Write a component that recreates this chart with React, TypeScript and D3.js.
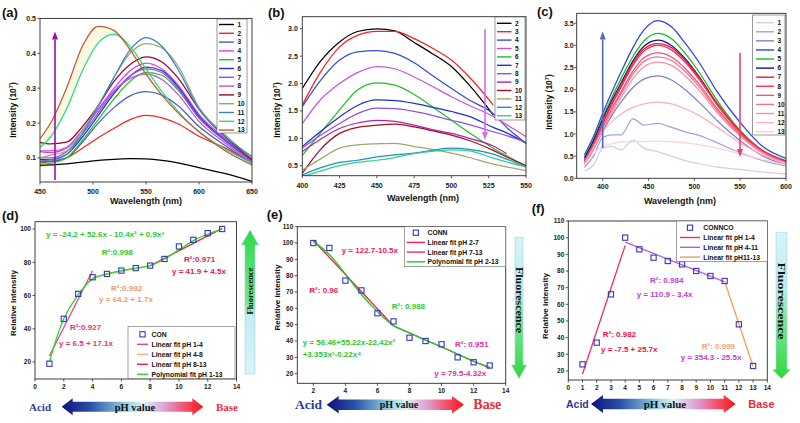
import React from "react";
import * as d3 from "d3";

const SANS = "'Liberation Sans', Arial, Helvetica, sans-serif";
const SERIF = "'Liberation Serif', 'Times New Roman', serif";
const AXIS = "#2b2b2b";

/* ---------------- (a) ---------------- */
const wavelengthA = [450, 460, 475, 490, 505, 520, 535, 550, 565, 580, 600, 625, 650];
const namesA = ["1", "2", "3", "4", "5", "6", "7", "8", "9", "10", "11", "12", "13"];
const intensityA = [
  [0.078, 0.080, 0.083, 0.088, 0.093, 0.096, 0.098, 0.097, 0.093, 0.086, 0.072, 0.055, 0.033],
  [0.085, 0.090, 0.100, 0.128, 0.158, 0.185, 0.210, 0.222, 0.215, 0.198, 0.162, 0.128, 0.085],
  [0.090, 0.090, 0.100, 0.145, 0.200, 0.245, 0.278, 0.290, 0.280, 0.250, 0.190, 0.135, 0.085],
  [0.120, 0.120, 0.130, 0.180, 0.240, 0.300, 0.350, 0.372, 0.355, 0.310, 0.225, 0.155, 0.095],
  [0.080, 0.085, 0.100, 0.150, 0.210, 0.270, 0.320, 0.345, 0.337, 0.295, 0.215, 0.150, 0.095],
  [0.095, 0.095, 0.110, 0.160, 0.222, 0.285, 0.335, 0.360, 0.350, 0.305, 0.220, 0.150, 0.090],
  [0.100, 0.100, 0.118, 0.168, 0.230, 0.290, 0.335, 0.355, 0.345, 0.300, 0.215, 0.148, 0.090],
  [0.118, 0.115, 0.128, 0.178, 0.238, 0.293, 0.328, 0.340, 0.325, 0.283, 0.205, 0.142, 0.085],
  [0.145, 0.140, 0.145, 0.190, 0.250, 0.320, 0.368, 0.390, 0.375, 0.330, 0.240, 0.160, 0.095],
  [0.100, 0.108, 0.120, 0.178, 0.250, 0.332, 0.400, 0.428, 0.415, 0.365, 0.245, 0.165, 0.100],
  [0.090, 0.095, 0.110, 0.170, 0.248, 0.332, 0.410, 0.445, 0.420, 0.355, 0.240, 0.160, 0.104],
  [0.130, 0.160, 0.240, 0.350, 0.430, 0.455, 0.420, 0.355, 0.290, 0.235, 0.175, 0.125, 0.085],
  [0.155, 0.200, 0.300, 0.420, 0.477, 0.465, 0.410, 0.340, 0.280, 0.230, 0.175, 0.120, 0.080],
];
const colorsA = ["#000000", "#ff2020", "#4a5ad0", "#e040e8", "#20c820", "#1f2ee0", "#9050e0", "#c050e0", "#a00030", "#a4a46a", "#3088c8", "#20e080", "#c05a30"];
const xTicksA = [450, 500, 550, 600, 650];
const yTicksA = [0.1, 0.2, 0.3, 0.4, 0.5];

/* ---------------- (b) ---------------- */
const wavelengthB = [400, 412, 425, 437, 450, 462, 475, 487, 500, 512, 528, 537, 550];
const namesB = ["2", "3", "4", "5", "6", "7", "8", "9", "10", "11", "12", "13"];
const intensityB: (number | null)[][] = [
  [1.91, 2.40, 2.76, 2.95, 3.00, 2.96, 2.75, 2.55, 2.31, 1.97, 1.43, null, null],
  [1.61, 2.20, 2.67, 2.88, 2.95, 2.95, 2.82, 2.65, 2.43, 2.12, 1.61, null, null],
  [1.58, 2.05, 2.43, 2.58, 2.60, 2.55, 2.38, 2.15, 1.91, 1.70, 1.45, 1.20, 0.91],
  [1.27, 1.70, 2.00, 2.20, 2.31, 2.27, 2.12, 1.95, 1.76, 1.60, 1.40, 1.25, 1.03],
  [0.69, 1.09, 1.52, 1.88, 2.01, 1.97, 1.80, 1.58, 1.33, 1.10, 0.82, 0.68, 0.50],
  [0.85, 1.12, 1.39, 1.60, 1.70, 1.69, 1.64, 1.57, 1.49, 1.40, 1.20, 1.10, 0.91],
  [0.82, 1.05, 1.27, 1.45, 1.55, 1.54, 1.49, 1.42, 1.33, 1.25, 1.12, 1.05, 0.93],
  [0.76, 0.98, 1.18, 1.28, 1.33, 1.31, 1.24, 1.16, 1.09, 1.00, 0.86, 0.72, null],
  [0.36, 0.79, 1.09, 1.20, 1.24, 1.26, 1.21, 1.14, 1.06, 0.96, 0.78, 0.66, 0.50],
  [0.42, 0.62, 0.82, 0.88, 0.90, 0.91, 0.85, 0.80, 0.73, 0.65, 0.53, 0.48, 0.41],
  [0.33, 0.46, 0.56, 0.60, 0.66, 0.70, 0.73, 0.78, 0.82, 0.80, 0.71, 0.62, 0.48],
  [0.30, 0.40, 0.50, 0.56, 0.60, 0.65, 0.72, 0.76, 0.79, 0.77, 0.64, 0.57, 0.48],
];
const colorsB = ["#000000", "#ff2020", "#3050d0", "#d050e0", "#20c020", "#2030d0", "#9050e0", "#b020b0", "#a01020", "#a4a46a", "#2090c0", "#30d090"];
const xTicksB = [400, 425, 450, 475, 500, 525, 550];
const yTicksB = [0.5, 1.0, 1.5, 2.0, 2.5, 3.0];

/* ---------------- (c) ---------------- */
const wavelengthC = [380, 390, 400, 410, 420, 433, 445, 460, 475, 490, 505, 525, 550, 575, 600];
const namesC = ["1", "2", "3", "4", "5", "6", "7", "8", "9", "10", "11", "12", "13"];
const intensityC = [
  [0.17, 0.30, 0.68, 0.72, 0.64, 0.86, 0.68, 0.60, 0.50, 0.40, 0.33, 0.25, 0.20, 0.14, 0.10],
  [0.25, 0.50, 0.92, 0.98, 0.98, 1.34, 1.20, 1.24, 1.15, 1.05, 0.97, 0.80, 0.58, 0.40, 0.28],
  [0.30, 0.65, 1.05, 1.42, 1.72, 2.05, 2.24, 2.31, 2.22, 2.00, 1.72, 1.30, 0.85, 0.50, 0.30],
  [0.53, 0.95, 1.47, 1.95, 2.40, 2.95, 3.35, 3.56, 3.42, 3.05, 2.62, 1.95, 1.26, 0.71, 0.45],
  [0.48, 0.88, 1.38, 1.83, 2.25, 2.75, 3.10, 3.27, 3.15, 2.82, 2.40, 1.75, 1.08, 0.62, 0.40],
  [0.45, 0.85, 1.33, 1.76, 2.15, 2.65, 2.98, 3.12, 3.00, 2.70, 2.30, 1.68, 1.04, 0.60, 0.38],
  [0.40, 0.78, 1.25, 1.70, 2.10, 2.60, 2.92, 3.04, 2.95, 2.66, 2.28, 1.68, 1.06, 0.62, 0.38],
  [0.38, 0.75, 1.22, 1.66, 2.05, 2.55, 2.87, 3.00, 2.90, 2.62, 2.24, 1.65, 1.04, 0.61, 0.37],
  [0.36, 0.72, 1.16, 1.58, 1.95, 2.42, 2.72, 2.83, 2.74, 2.48, 2.13, 1.57, 1.00, 0.59, 0.36],
  [0.35, 0.70, 1.13, 1.54, 1.90, 2.35, 2.64, 2.74, 2.66, 2.41, 2.07, 1.53, 0.98, 0.58, 0.35],
  [0.34, 0.68, 1.10, 1.48, 1.82, 2.25, 2.52, 2.62, 2.55, 2.31, 1.99, 1.48, 0.95, 0.56, 0.34],
  [0.33, 0.70, 1.05, 1.28, 1.45, 1.60, 1.68, 1.72, 1.68, 1.57, 1.42, 1.15, 0.80, 0.52, 0.33],
  [0.30, 0.55, 0.72, 0.78, 0.82, 0.83, 0.83, 0.84, 0.83, 0.80, 0.76, 0.68, 0.55, 0.42, 0.30],
];
const colorsC = ["#d4ccf0", "#a8a0dc", "#8080cc", "#3040e0", "#10c010", "#101090", "#ff1030", "#f83050", "#f85070", "#f87090", "#f890a8", "#fab0c0", "#fcd0dc"];
const xTicksC = [400, 450, 500, 550, 600];
const yTicksC = [0.0, 0.5, 1.0, 1.5, 2.0, 2.5, 3.0, 3.5];

/* ---------------- (d) ---------------- */
const phD = [1, 2, 3, 4, 5, 6, 7, 8, 9, 10, 11, 12, 13];
const relD = [19, 46, 61, 71, 73, 75, 76.5, 78, 82, 89.5, 93.5, 97.5, 100];
const polyD = [20, 46, 60.5, 70, 73, 75, 76.5, 78, 82, 87.5, 93, 97, 100];
const fitD1X = [1, 4];
const fitD1Y = [23.6, 74.9];
const fitD2X = [4, 8];
const fitD2Y = [71, 77.8];
const fitD3X = [8, 13];
const fitD3Y = [77.9, 100.4];
const xTicksD = [0, 2, 4, 6, 8, 10, 12, 14];
const yTicksD = [20, 40, 60, 80, 100];

/* ---------------- (e) ---------------- */
const phE = [2, 3, 4, 5, 6, 7, 8, 9, 10, 11, 12, 13];
const relE = [100, 97, 77, 71, 57, 52, 42, 40, 38, 30, 27, 25];
const polyE = [101, 93, 81, 68.5, 58, 49.5, 45, 40.5, 36.5, 32, 27.5, 24];
const fitE1X = [2, 7];
const fitE1Y = [101.7, 49.2];
const fitE2X = [7, 13];
const fitE2Y = [49.3, 23.3];
const xTicksE = [2, 4, 6, 8, 10, 12, 14];
const yTicksE = [20, 30, 40, 50, 60, 70, 80, 90, 100, 110];

/* ---------------- (f) ---------------- */
const phF = [1, 2, 3, 4, 5, 6, 7, 8, 9, 10, 11, 12, 13];
const relF = [24, 37, 66, 100, 93, 88, 86, 84, 80, 77, 74, 48, 23];
const fitF1X = [1, 4];
const fitF1Y = [18.2, 95.3];
const fitF2X = [4, 11];
const fitF2Y = [97.3, 73.5];
const fitF3X = [11, 13];
const fitF3Y = [73.8, 22.8];
const xTicksF = [0, 1, 2, 3, 4, 5, 6, 7, 8, 9, 10, 11, 12, 13, 14];
const yTicksF = [20, 30, 40, 50, 60, 70, 80, 90, 100, 110];

type Sc = d3.ScaleLinear<number, number>;

function Axes(p: {
  xs: Sc; ys: Sc; xTicks: number[]; yTicks: number[]; xFmt: (v: number) => string; yFmt: (v: number) => string;
  fs: number; xLabOff: number; yLabOff: number;
}) {
  const [x0, x1] = p.xs.range();
  const [y0, y1] = p.ys.range();
  return (
    <g>
      <rect x={x0} y={y1} width={x1 - x0} height={y0 - y1} fill="none" stroke={AXIS} strokeWidth={0.9} />
      {p.xTicks.map((t) => (
        <g key={"x" + t}>
          <line x1={p.xs(t)} x2={p.xs(t)} y1={y0} y2={y0 + 2.5} stroke={AXIS} strokeWidth={0.8} />
          <text x={p.xs(t)} y={y0 + p.xLabOff} textAnchor="middle" fontSize={p.fs} fontWeight="bold" fontFamily={SANS} fill="#222">
            {p.xFmt(t)}
          </text>
        </g>
      ))}
      {p.yTicks.map((t) => (
        <g key={"y" + t}>
          <line x1={x0 - 2.5} x2={x0} y1={p.ys(t)} y2={p.ys(t)} stroke={AXIS} strokeWidth={0.8} />
          <text x={x0 - p.yLabOff} y={p.ys(t) + p.fs * 0.36} textAnchor="end" fontSize={p.fs} fontWeight="bold" fontFamily={SANS} fill="#222">
            {p.yFmt(t)}
          </text>
        </g>
      ))}
    </g>
  );
}

function VArrow({ x, yFrom, yTo, color }: { x: number; yFrom: number; yTo: number; color: string }) {
  const dir = yTo > yFrom ? 1 : -1;
  const hl = 8;
  const hw = 3;
  return (
    <g>
      <line x1={x} x2={x} y1={yFrom} y2={yTo - dir * hl} stroke={color} strokeWidth={1.6} />
      <path d={`M${x},${yTo} L${x - hw},${yTo - dir * hl} L${x + hw},${yTo - dir * hl} Z`} fill={color} />
    </g>
  );
}

type Leg = { x0: number; x1: number; y0: number; y1: number; first: number; step: number; lx0: number; lx1: number; tx: number };

function Spectrum(p: {
  id: string; left: number; right: number; top: number; bottom: number;
  xDomain: number[]; yDomain: number[]; xTicks: number[]; yTicks: number[];
  wl: number[]; rows: (number | null)[][]; names: string[]; colors: string[];
  leg: Leg; fillPair?: [number, number];
  label: string; labelX: number; labelY: number;
  yTitleX: number; yTitleY: number; xTitleX: number; xTitleY: number;
  xLabOff: number; yLabOff: number;
  render: (xs: Sc, ys: Sc) => React.ReactNode;
}) {
  const xs = d3.scaleLinear().domain(p.xDomain).range([p.left, p.right]);
  const ys = d3.scaleLinear().domain(p.yDomain).range([p.bottom, p.top]);
  const line = d3
    .line<number | null>()
    .defined((v) => v != null)
    .x((_, i) => xs(p.wl[i]))
    .y((v) => ys(v as number))
    .curve(d3.curveMonotoneX);
  let fillPath: string | null = null;
  if (p.fillPair) {
    const [a, b] = p.fillPair;
    const area = d3
      .area<number>()
      .x((_, i) => xs(p.wl[i]))
      .y0((_, i) => ys(p.rows[a][i] as number))
      .y1((_, i) => ys(p.rows[b][i] as number))
      .curve(d3.curveMonotoneX);
    fillPath = area(p.wl);
  }
  const fmt = d3.format(".1f");
  return (
    <g>
      <defs>
        <clipPath id={"clip" + p.id}>
          <rect x={p.left} y={p.top} width={p.right - p.left} height={p.bottom - p.top} />
        </clipPath>
      </defs>
      <g clipPath={`url(#clip${p.id})`}>
        {fillPath && <path d={fillPath} fill="#fbf4d6" opacity={0.75} />}
        {p.rows.map((r, i) => (
          <path key={i} d={line(r) || ""} fill="none" stroke={p.colors[i]} strokeWidth={1.25} />
        ))}
      </g>
      <Axes xs={xs} ys={ys} xTicks={p.xTicks} yTicks={p.yTicks} xFmt={(v) => String(v)} yFmt={fmt} fs={7} xLabOff={p.xLabOff} yLabOff={p.yLabOff} />
      {p.render(xs, ys)}
      <rect x={p.leg.x0} y={p.leg.y0} width={p.leg.x1 - p.leg.x0} height={p.leg.y1 - p.leg.y0} fill="#fff" stroke="#555" strokeWidth={0.6} />
      {p.names.map((n, i) => {
        const y = p.leg.first + i * p.leg.step;
        return (
          <g key={n}>
            <line x1={p.leg.lx0} x2={p.leg.lx1} y1={y} y2={y} stroke={p.colors[i]} strokeWidth={1.4} />
            <text x={p.leg.tx} y={y + 2.3} fontSize={6.5} fontWeight="bold" fontFamily={SANS} fill="#111">
              {n}
            </text>
          </g>
        );
      })}
      <text x={p.labelX} y={p.labelY} fontSize={13} fontWeight="bold" fontFamily={SANS} fill="#111">
        {p.label}
      </text>
      <text transform={`translate(${p.yTitleX},${p.yTitleY}) rotate(-90)`} textAnchor="middle" fontSize={8.5} fontWeight="bold" fontFamily={SANS} fill="#111">
        Intensity (10<tspan dy={-3} fontSize={5.5}>7</tspan><tspan dy={3}>)</tspan>
      </text>
      <text x={p.xTitleX} y={p.xTitleY} textAnchor="middle" fontSize={9} fontWeight="bold" fontFamily={SANS} fill="#111">
        Wavelength (nm)
      </text>
    </g>
  );
}

function Squares({ xs, ys, xv, yv }: { xs: Sc; ys: Sc; xv: number[]; yv: number[] }) {
  const s = 5.2;
  return (
    <g>
      {xv.map((x, i) => (
        <rect key={i} x={xs(x) - s / 2} y={ys(yv[i]) - s / 2} width={s} height={s} fill="none" stroke="#3535c8" strokeWidth={1.1} />
      ))}
    </g>
  );
}

function FitLine({ xs, ys, xv, yv, color, smooth }: { xs: Sc; ys: Sc; xv: number[]; yv: number[]; color: string; smooth?: boolean }) {
  const line = d3
    .line<number>()
    .x((_, i) => xs(xv[i]))
    .y((v) => ys(v))
    .curve(smooth ? d3.curveCatmullRom.alpha(0.5) : d3.curveLinear);
  return <path d={line(yv) || ""} fill="none" stroke={color} strokeWidth={1.3} />;
}

type LegItem = { kind: "sq" | "line"; color: string; text: string };

function FitLegend({ x0, x1, y0, y1, first, step, lx0, lx1, tx, items }: {
  x0: number; x1: number; y0: number; y1: number; first: number; step: number; lx0: number; lx1: number; tx: number; items: LegItem[];
}) {
  return (
    <g>
      <rect x={x0} y={y0} width={x1 - x0} height={y1 - y0} fill="#fff" stroke="#666" strokeWidth={0.6} />
      {items.map((it, i) => {
        const y = first + i * step;
        const cx = (lx0 + lx1) / 2;
        return (
          <g key={i}>
            {it.kind === "sq" ? (
              <rect x={cx - 2.6} y={y - 2.6} width={5.2} height={5.2} fill="none" stroke="#3535c8" strokeWidth={1.1} />
            ) : (
              <line x1={lx0} x2={lx1} y1={y} y2={y} stroke={it.color} strokeWidth={1.4} />
            )}
            <text x={tx} y={y + 2.4} fontSize={6.8} fontWeight="bold" fontFamily={SANS} fill="#111">
              {it.text}
            </text>
          </g>
        );
      })}
    </g>
  );
}

function Ann({ x, y, color, children, fs = 8 }: { x: number; y: number; color: string; children: React.ReactNode; fs?: number }) {
  return (
    <text x={x} y={y} fontSize={fs} fontWeight="bold" fontFamily={SANS} fill={color}>
      {children}
    </text>
  );
}

function DoubleArrow({ xl, xr, cy, hh, sh, hl }: { xl: number; xr: number; cy: number; hh: number; sh: number; hl: number }) {
  const d = `M${xl},${cy} L${xl + hl},${cy - hh} L${xl + hl},${cy - sh} L${xr - hl},${cy - sh} L${xr - hl},${cy - hh} L${xr},${cy} L${xr - hl},${cy + hh} L${xr - hl},${cy + sh} L${xl + hl},${cy + sh} L${xl + hl},${cy + hh} Z`;
  return <path d={d} fill="url(#gradPH)" />;
}

function FluoArrow({ xl, xr, top, bottom, hw, hl, up, grad }: { xl: number; xr: number; top: number; bottom: number; hw: number; hl: number; up: boolean; grad: string }) {
  const cx = (xl + xr) / 2;
  const d = up
    ? `M${cx},${top} L${cx + hw},${top + hl} L${xr},${top + hl} L${xr},${bottom} L${xl},${bottom} L${xl},${top + hl} L${cx - hw},${top + hl} Z`
    : `M${xl},${top} L${xr},${top} L${xr},${bottom - hl} L${cx + hw},${bottom - hl} L${cx},${bottom} L${cx - hw},${bottom - hl} L${xl},${bottom - hl} Z`;
  return <path d={d} fill={`url(#${grad})`} stroke="#9fd4e2" strokeWidth={0.6} />;
}

function FluoText({ x, y, len, fs, up }: { x: number; y: number; len: number; fs: number; up: boolean }) {
  return (
    <text
      transform={`translate(${x},${y}) rotate(${up ? -90 : 90})`}
      textAnchor="middle"
      fontSize={fs}
      fontWeight="bold"
      fontFamily={SERIF}
      fill="#111"
      textLength={len}
      lengthAdjust="spacingAndGlyphs"
      dy={fs * 0.33}
    >
      Fluorescence
    </text>
  );
}

function PanelA() {
  return (
    <Spectrum
      id="a" left={40} right={252} top={18.4} bottom={182}
      xDomain={[450, 650]} yDomain={[0.031, 0.5]} xTicks={xTicksA} yTicks={yTicksA}
      wl={wavelengthA} rows={intensityA} names={namesA} colors={colorsA}
      leg={{ x0: 217, x1: 247, y0: 19, y1: 133, first: 24.5, step: 8.8, lx0: 219, lx1: 234, tx: 237.5 }}
      fillPair={[11, 12]}
      label="(a)" labelX={2} labelY={17}
      yTitleX={16} yTitleY={110} xTitleX={146} xTitleY={204}
      xLabOff={12} yLabOff={4}
      render={() => <VArrow x={55} yFrom={180} yTo={31.5} color="#9a10a8" />}
    />
  );
}

function PanelB() {
  return (
    <Spectrum
      id="b" left={302.3} right={526} top={16.7} bottom={175.7}
      xDomain={[400, 550]} yDomain={[0.318, 3.22]} xTicks={xTicksB} yTicks={yTicksB}
      wl={wavelengthB} rows={intensityB} names={namesB} colors={colorsB}
      leg={{ x0: 495, x1: 525, y0: 17, y1: 120, first: 23.3, step: 8.4, lx0: 497, lx1: 511.5, tx: 515 }}
      label="(b)" labelX={268} labelY={17}
      yTitleX={280} yTitleY={110} xTitleX={423} xTitleY={201}
      xLabOff={12} yLabOff={4.5}
      render={() => <VArrow x={485} yFrom={29} yTo={140} color="#d070e8" />}
    />
  );
}

function PanelC() {
  return (
    <Spectrum
      id="c" left={576.7} right={786} top={13.3} bottom={178.3}
      xDomain={[371.6, 600]} yDomain={[0, 3.725]} xTicks={xTicksC} yTicks={yTicksC}
      wl={wavelengthC} rows={intensityC} names={namesC} colors={colorsC}
      leg={{ x0: 752.7, x1: 785, y0: 15, y1: 135, first: 22.7, step: 9.08, lx0: 756, lx1: 774, tx: 777.5 }}
      label="(c)" labelX={537} labelY={16}
      yTitleX={552} yTitleY={102} xTitleX={680} xTitleY={203.5}
      xLabOff={11} yLabOff={3}
      render={() => (
        <g>
          <VArrow x={602.7} yFrom={148} yTo={31.5} color="#5565c5" />
          <VArrow x={740} yFrom={52.7} yTo={157} color="#f04070" />
        </g>
      )}
    />
  );
}

function PanelD() {
  const xs = d3.scaleLinear().domain([0, 14]).range([35, 236.5]);
  const ys = d3.scaleLinear().domain([9.8, 104.4]).range([379, 221.7]);
  return (
    <g>
      <FitLine xs={xs} ys={ys} xv={fitD1X} yv={fitD1Y} color="#f0408c" />
      <FitLine xs={xs} ys={ys} xv={fitD2X} yv={fitD2Y} color="#f3b487" />
      <FitLine xs={xs} ys={ys} xv={fitD3X} yv={fitD3Y} color="#e8204c" />
      <FitLine xs={xs} ys={ys} xv={phD} yv={polyD} color="#22dd22" smooth />
      <Squares xs={xs} ys={ys} xv={phD} yv={relD} />
      <Axes xs={xs} ys={ys} xTicks={xTicksD} yTicks={yTicksD} xFmt={String} yFmt={String} fs={6.5} xLabOff={9.5} yLabOff={4} />
      <FitLegend
        x0={128} x1={235} y0={326.7} y1={378.5} first={334.3} step={10} lx0={137} lx1={148} tx={151.5}
        items={[
          { kind: "sq", color: "#3535c8", text: "CON" },
          { kind: "line", color: "#f0408c", text: "Linear fit pH 1-4" },
          { kind: "line", color: "#f3b487", text: "Linear fit pH 4-8" },
          { kind: "line", color: "#e8204c", text: "Linear fit pH 8-13" },
          { kind: "line", color: "#22dd22", text: "Polynomial fit pH 1-13" },
        ]}
      />
      <Ann x={46} y={237.3} color="#2ec82e">y = -24.2 + 52.6x - 10.4x² + 0.9x³</Ann>
      <Ann x={101.7} y={255} color="#2ec82e">R²:0.998</Ann>
      <Ann x={184} y={261.7} color="#e8204c">R²:0.971</Ann>
      <Ann x={172} y={274} color="#e8204c">y = 41.9 + 4.5x</Ann>
      <Ann x={111} y={290.7} color="#f39a6a">R²:0.992</Ann>
      <Ann x={99} y={301.7} color="#f39a6a">y = 64.2 + 1.7x</Ann>
      <Ann x={70} y={330} color="#f0306e">R²:0.927</Ann>
      <Ann x={59} y={346} color="#f0306e">y = 6.5 + 17.1x</Ann>
      <text x={2} y={220} fontSize={13} fontWeight="bold" fontFamily={SANS} fill="#111">(d)</text>
      <text transform="translate(16,303) rotate(-90)" textAnchor="middle" fontSize={8} fontWeight="bold" fontFamily={SANS} fill="#111">
        Relative Intensity
      </text>
      <FluoArrow xl={245} xr={255} top={230} bottom={374} hw={8.5} hl={15} up grad="gradUp" />
      <FluoText x={250} y={291} len={47} fs={8.5} up />
      <DoubleArrow xl={61.7} xr={203.3} cy={406.7} hh={8.5} sh={5} hl={11} />
      <text x={29} y={410.5} fontSize={11} fontWeight="bold" fontFamily={SERIF} fill="#2a3aa0">Acid</text>
      <text x={135} y={410.5} textAnchor="middle" fontSize={10.5} fontWeight="bold" fontFamily={SERIF} fill="#111">pH value</text>
      <text x={216} y={410.5} fontSize={11} fontWeight="bold" fontFamily={SERIF} fill="#f0283c">Base</text>
    </g>
  );
}

function PanelE() {
  const xs = d3.scaleLinear().domain([1, 14]).range([297.3, 505.7]);
  const ys = d3.scaleLinear().domain([14.1, 110]).range([383.3, 226.7]);
  return (
    <g>
      <FitLine xs={xs} ys={ys} xv={fitE1X} yv={fitE1Y} color="#f02048" />
      <FitLine xs={xs} ys={ys} xv={fitE2X} yv={fitE2Y} color="#e8306c" />
      <FitLine xs={xs} ys={ys} xv={phE} yv={polyE} color="#22cc22" smooth />
      <Squares xs={xs} ys={ys} xv={phE} yv={relE} />
      <Axes xs={xs} ys={ys} xTicks={xTicksE} yTicks={yTicksE} xFmt={String} yFmt={String} fs={6.5} xLabOff={9.5} yLabOff={4} />
      <FitLegend
        x0={404.3} x1={505.7} y0={226.7} y1={266.7} first={232.7} step={9.7} lx0={406.7} lx1={425} tx={427.5}
        items={[
          { kind: "sq", color: "#3535c8", text: "CONN" },
          { kind: "line", color: "#f02048", text: "Linear fit pH 2-7" },
          { kind: "line", color: "#e8306c", text: "Linear fit pH 7-13" },
          { kind: "line", color: "#22cc22", text: "Polynomial fit pH 2-13" },
        ]}
      />
      <Ann x={341.7} y={252.7} color="#f02050">y = 122.7-10.5x</Ann>
      <Ann x={309.3} y={293.3} color="#f02050">R²: 0.96</Ann>
      <Ann x={391.7} y={309.3} color="#2ec82e">R²: 0.988</Ann>
      <Ann x={302.7} y={345} color="#2ec82e">y = 56.46+55.22x-22.42x²</Ann>
      <Ann x={302.7} y={356.7} color="#2ec82e">+3.353x³-0.22x⁴</Ann>
      <Ann x={455} y={346.7} color="#e0309c">R²: 0.951</Ann>
      <Ann x={434.3} y={375.7} color="#e0309c">y = 79.5-4.32x</Ann>
      <text x={266.7} y={219.3} fontSize={13} fontWeight="bold" fontFamily={SANS} fill="#111">(e)</text>
      <text transform="translate(280,297.5) rotate(-90)" textAnchor="middle" fontSize={8} fontWeight="bold" fontFamily={SANS} fill="#111">
        Relative intensity
      </text>
      <FluoArrow xl={515} xr={523} top={237.3} bottom={378.5} hw={7.5} hl={13.5} up={false} grad="gradDown" />
      <FluoText x={519} y={300} len={66} fs={10} up={false} />
      <DoubleArrow xl={326.7} xr={464} cy={404.7} hh={8.7} sh={5.2} hl={12} />
      <text x={295} y={408.5} fontSize={13.5} fontWeight="bold" fontFamily={SERIF} fill="#2a3aa0">Acid</text>
      <text x={399} y={408} textAnchor="middle" fontSize={10} fontWeight="bold" fontFamily={SERIF} fill="#111">pH value</text>
      <text x={473.3} y={408.5} fontSize={14} fontWeight="bold" fontFamily={SERIF} fill="#f0283c">Base</text>
    </g>
  );
}

function PanelF() {
  const xs = d3.scaleLinear().domain([0, 14]).range([568.3, 767.3]);
  const ys = d3.scaleLinear().domain([14.6, 110]).range([380, 221]);
  return (
    <g>
      <FitLine xs={xs} ys={ys} xv={fitF1X} yv={fitF1Y} color="#f03060" />
      <FitLine xs={xs} ys={ys} xv={fitF2X} yv={fitF2Y} color="#c458e0" />
      <FitLine xs={xs} ys={ys} xv={fitF3X} yv={fitF3Y} color="#f39a5a" />
      <Squares xs={xs} ys={ys} xv={phF} yv={relF} />
      <Axes xs={xs} ys={ys} xTicks={xTicksF} yTicks={yTicksF} xFmt={String} yFmt={String} fs={6.5} xLabOff={9.5} yLabOff={4} />
      <FitLegend
        x0={676.7} x1={767.3} y0={221} y1={261.7} first={227.7} step={9.8} lx0={680} lx1={700} tx={703.3}
        items={[
          { kind: "sq", color: "#3535c8", text: "CONNCO" },
          { kind: "line", color: "#f03060", text: "Linear fit pH 1-4" },
          { kind: "line", color: "#c458e0", text: "Linear fit pH 4-11" },
          { kind: "line", color: "#f39a5a", text: "Linear fit pH11-13" },
        ]}
      />
      <Ann x={650} y={283.3} color="#c040d0">R²: 0.984</Ann>
      <Ann x={636.7} y={296.7} color="#c040d0">y = 110.9 - 3.4x</Ann>
      <Ann x={602.7} y={336.7} color="#f01040">R²: 0.982</Ann>
      <Ann x={601} y={352.3} color="#f01040">y = -7.5 + 25.7x</Ann>
      <Ann x={701.7} y={349} color="#f8a070">R²: 0.999</Ann>
      <Ann x={680.7} y={360} color="#c040d0">y = 354.3 - 25.5x</Ann>
      <text x={531.7} y={213.3} fontSize={13} fontWeight="bold" fontFamily={SANS} fill="#111">(f)</text>
      <text transform="translate(548,306) rotate(-90)" textAnchor="middle" fontSize={8} fontWeight="bold" fontFamily={SANS} fill="#111">
        Relative intensity
      </text>
      <FluoArrow xl={776} xr={787} top={232.3} bottom={378.5} hw={9} hl={9} up={false} grad="gradDown" />
      <FluoText x={781.5} y={301} len={77} fs={10.5} up={false} />
      <DoubleArrow xl={591} xr={735.7} cy={404} hh={9} sh={5.3} hl={12} />
      <text x={566} y={407.5} fontSize={10.5} fontWeight="bold" fontFamily={SANS} fill="#2a3aa0">Acid</text>
      <text x={665} y={408} textAnchor="middle" fontSize={11} fontWeight="bold" fontFamily={SERIF} fill="#111">pH value</text>
      <text x={748.3} y={407.5} fontSize={11} fontWeight="bold" fontFamily={SANS} fill="#f0283c">Base</text>
    </g>
  );
}

export default function App() {
  return (
    <svg width={800} height={423} viewBox="0 0 800 423" style={{ position: "absolute", left: 0, top: 0, background: "#fff" }}>
      <defs>
        <linearGradient id="gradPH" x1="0" y1="0" x2="1" y2="0">
          <stop offset="0" stopColor="#10107a" />
          <stop offset="0.2" stopColor="#2a50a8" />
          <stop offset="0.45" stopColor="#8fd0e2" />
          <stop offset="0.57" stopColor="#dcf2f6" />
          <stop offset="0.72" stopColor="#dba6d8" />
          <stop offset="0.87" stopColor="#f25070" />
          <stop offset="1" stopColor="#ff1414" />
        </linearGradient>
        <linearGradient id="gradUp" x1="0" y1="0" x2="0" y2="1">
          <stop offset="0" stopColor="#2fd845" />
          <stop offset="0.5" stopColor="#72e690" />
          <stop offset="0.6" stopColor="#c2eef2" />
          <stop offset="1" stopColor="#d8f4f9" />
        </linearGradient>
        <linearGradient id="gradDown" x1="0" y1="0" x2="0" y2="1">
          <stop offset="0" stopColor="#d8f4f9" />
          <stop offset="0.4" stopColor="#b8ecec" />
          <stop offset="0.6" stopColor="#7ae598" />
          <stop offset="1" stopColor="#2fd83a" />
        </linearGradient>
      </defs>
      <rect width={800} height={423} fill="#fff" />
      <PanelA />
      <PanelB />
      <PanelC />
      <PanelD />
      <PanelE />
      <PanelF />
    </svg>
  );
}
